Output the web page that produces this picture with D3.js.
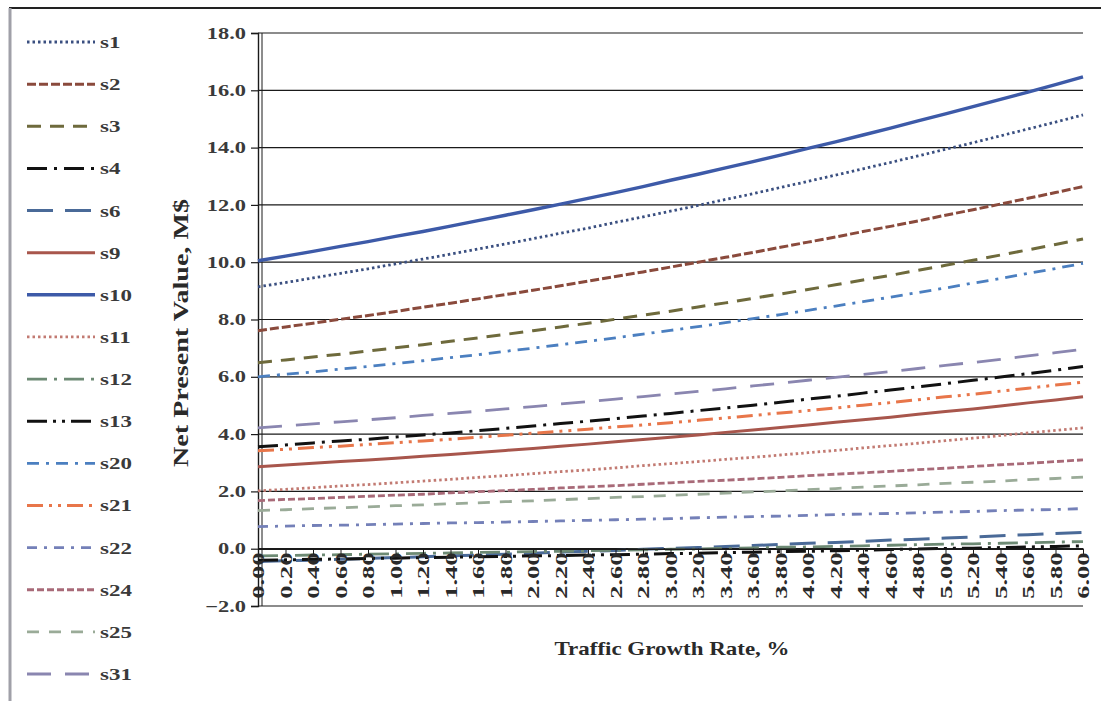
<!DOCTYPE html>
<html><head><meta charset="utf-8">
<script src="https://cdn.jsdelivr.net/npm/d3@7"></script>
<style>body{margin:0;background:#fff;} svg{display:block;}</style>
</head><body>
<svg id="c" width="1101" height="701"></svg>
<script>
const categories = ["0.00","0.20","0.40","0.60","0.80","1.00","1.20","1.40","1.60","1.80","2.00","2.20","2.40","2.60","2.80","3.00","3.20","3.40","3.60","3.80","4.00","4.20","4.40","4.60","4.80","5.00","5.20","5.40","5.60","5.80","6.00"];
const yTicks = [-2,0,2,4,6,8,10,12,14,16,18];
const seriesNames = ["s1","s2","s3","s4","s6","s9","s10","s11","s12","s13","s20","s21","s22","s24","s25","s31"];

const s1 = [9.14,9.29,9.45,9.61,9.77,9.94,10.11,10.28,10.46,10.64,10.82,11.01,11.19,11.39,11.58,11.78,11.98,12.19,12.39,12.61,12.82,13.04,13.26,13.48,13.71,13.94,14.17,14.41,14.65,14.89,15.14];
const s2 = [7.61,7.74,7.87,8.01,8.14,8.28,8.43,8.57,8.72,8.87,9.02,9.18,9.34,9.50,9.66,9.83,10.00,10.17,10.34,10.52,10.70,10.88,11.07,11.25,11.44,11.64,11.83,12.03,12.23,12.43,12.64];
const s3 = [6.49,6.59,6.69,6.79,6.90,7.01,7.12,7.24,7.36,7.48,7.61,7.74,7.87,8.01,8.15,8.29,8.44,8.58,8.74,8.89,9.05,9.21,9.38,9.54,9.72,9.89,10.07,10.25,10.43,10.62,10.81];
const s4 = [3.56,3.62,3.69,3.76,3.82,3.90,3.97,4.04,4.12,4.20,4.28,4.37,4.45,4.54,4.63,4.72,4.82,4.91,5.01,5.11,5.22,5.32,5.43,5.54,5.65,5.76,5.88,5.99,6.11,6.23,6.36];
const s6 = [-0.45,-0.42,-0.40,-0.37,-0.34,-0.31,-0.28,-0.25,-0.22,-0.19,-0.16,-0.12,-0.09,-0.06,-0.02,0.01,0.04,0.08,0.11,0.15,0.19,0.22,0.26,0.30,0.33,0.37,0.41,0.45,0.49,0.53,0.57];
const s9 = [2.86,2.92,2.98,3.04,3.10,3.16,3.23,3.29,3.36,3.43,3.50,3.58,3.65,3.73,3.81,3.89,3.97,4.06,4.14,4.23,4.32,4.41,4.50,4.59,4.69,4.79,4.88,4.98,5.09,5.19,5.30];
const s10 = [10.05,10.21,10.38,10.55,10.72,10.90,11.07,11.26,11.45,11.64,11.83,12.03,12.23,12.43,12.64,12.86,13.07,13.29,13.51,13.74,13.97,14.20,14.44,14.68,14.93,15.18,15.43,15.68,15.94,16.20,16.47];
const s11 = [2.02,2.07,2.13,2.19,2.24,2.30,2.36,2.42,2.49,2.55,2.62,2.69,2.75,2.82,2.90,2.97,3.04,3.12,3.19,3.27,3.35,3.43,3.52,3.60,3.68,3.77,3.86,3.95,4.04,4.13,4.22];
const s12 = [-0.25,-0.24,-0.22,-0.21,-0.19,-0.18,-0.16,-0.15,-0.13,-0.12,-0.10,-0.09,-0.07,-0.06,-0.04,-0.02,-0.01,0.01,0.03,0.05,0.06,0.08,0.10,0.12,0.14,0.16,0.17,0.19,0.21,0.23,0.25];
const s13 = [-0.40,-0.39,-0.37,-0.36,-0.34,-0.33,-0.31,-0.30,-0.28,-0.27,-0.25,-0.24,-0.22,-0.21,-0.19,-0.17,-0.16,-0.14,-0.12,-0.10,-0.09,-0.07,-0.05,-0.03,-0.01,0.01,0.02,0.04,0.06,0.08,0.10];
const s20 = [6.00,6.09,6.17,6.27,6.36,6.46,6.56,6.67,6.77,6.89,7.00,7.12,7.24,7.36,7.49,7.62,7.75,7.89,8.03,8.17,8.32,8.47,8.62,8.78,8.94,9.10,9.27,9.43,9.61,9.78,9.96];
const s21 = [3.42,3.47,3.53,3.58,3.64,3.70,3.76,3.82,3.89,3.96,4.03,4.10,4.17,4.25,4.32,4.40,4.48,4.56,4.65,4.74,4.82,4.91,5.01,5.10,5.20,5.30,5.39,5.50,5.60,5.71,5.81];
const s22 = [0.77,0.79,0.81,0.82,0.84,0.86,0.88,0.90,0.91,0.93,0.95,0.97,0.99,1.01,1.03,1.05,1.08,1.10,1.12,1.14,1.16,1.19,1.21,1.23,1.25,1.28,1.30,1.33,1.35,1.37,1.40];
const s24 = [1.68,1.72,1.75,1.79,1.83,1.87,1.90,1.95,1.99,2.03,2.07,2.12,2.16,2.20,2.25,2.30,2.35,2.39,2.44,2.49,2.55,2.60,2.65,2.70,2.76,2.81,2.87,2.93,2.98,3.04,3.10];
const s25 = [1.33,1.36,1.40,1.43,1.46,1.50,1.53,1.57,1.60,1.64,1.67,1.71,1.75,1.79,1.82,1.86,1.90,1.94,1.98,2.02,2.06,2.10,2.15,2.19,2.23,2.28,2.32,2.36,2.41,2.45,2.50];
const s31 = [4.22,4.29,4.36,4.43,4.50,4.57,4.65,4.72,4.80,4.88,4.96,5.05,5.13,5.22,5.31,5.40,5.49,5.58,5.68,5.78,5.88,5.98,6.08,6.18,6.29,6.40,6.50,6.61,6.73,6.84,6.96];

const seriesValues = [s1,s2,s3,s4,s6,s9,s10,s11,s12,s13,s20,s21,s22,s24,s25,s31];

// styles (kept apart from data)
const seriesColors = ["#3a4f80","#8a4a3c","#6e6a3c","#111111","#4a6a98","#a8564c","#3d5aa8","#c27a72","#6d8a74","#111111","#4b7fc0","#e8764a","#7480b8","#a86a78","#9aab98","#8a86b0"];
const seriesDash = ["2.5,3","9,3","14,9","20,7,3,7","26,12",null,null,"2.5,3","20,7,3,7","20,6,3,6,3,6","12,7,3,7","16,6,3,6,3,6","10,7,3,7","7,3","12,10","24,14"];
const seriesWidth = [2.8,3,3,3,3,3,3.4,2.8,2.8,3,2.8,3,2.8,2.8,2.8,2.8];

const svg = d3.select("#c");
const SERIF = "'Liberation Serif','Times New Roman',serif";
svg.append("rect").attr("width",1101).attr("height",701).attr("fill","#fff");

function stretch(sel, f){
  sel.each(function(){
    const l = this.getComputedTextLength();
    d3.select(this).attr("textLength", l*f).attr("lengthAdjust","spacingAndGlyphs");
  });
}

// frame
svg.append("line").attr("x1",9).attr("x2",1101).attr("y1",8).attr("y2",8).attr("stroke","#222").attr("stroke-width",2);
svg.append("line").attr("x1",10).attr("x2",10).attr("y1",8).attr("y2",701).attr("stroke","#a0a0a8").attr("stroke-width",3);

const x = d3.scalePoint().domain(categories).range([258,1083]);
const y = d3.scaleLinear().domain([-2,18]).range([606,33]);

// gridlines
svg.append("g").selectAll("line").data(yTicks).join("line")
  .attr("x1",258).attr("x2",1083)
  .attr("y1",d=>y(d)).attr("y2",d=>y(d))
  .attr("stroke","#1a1a1a").attr("stroke-width",1.2);

// y axis
const gy = svg.append("g").attr("transform","translate(258,0)")
  .call(d3.axisLeft(y).tickValues(yTicks).tickFormat(d3.format(".1f")).tickSize(7).tickPadding(5));
gy.select(".domain").attr("stroke","#1a1a1a").attr("stroke-width",1.4);
gy.selectAll(".tick line").attr("stroke","#1a1a1a").attr("stroke-width",1.2);
gy.selectAll("text").attr("font-family",SERIF).attr("font-weight","bold").attr("font-size",16).attr("fill","#3a3a3a");
stretch(gy.selectAll("text"),1.4);
svg.append("line").attr("x1",262).attr("x2",262).attr("y1",y(18)).attr("y2",y(-2)).attr("stroke","#1a1a1a").attr("stroke-width",1);

// series lines
const line = d3.line().x((d,i)=>x(categories[i])).y(d=>y(d));
const gl = svg.append("g");
seriesValues.forEach((vals,k)=>{
  gl.append("path").datum(vals).attr("d",line)
    .attr("fill","none").attr("stroke",seriesColors[k])
    .attr("stroke-width",seriesWidth[k])
    .attr("stroke-dasharray",seriesDash[k]);
});

// x axis at 0
const gx = svg.append("g").attr("transform",`translate(0,${y(0)})`)
  .call(d3.axisBottom(x).tickSize(8).tickSizeOuter(0));
gx.select(".domain").attr("stroke","#1a1a1a").attr("stroke-width",1.4);
gx.selectAll(".tick line").attr("stroke","#1a1a1a");
gx.selectAll("text")
  .attr("transform","rotate(-90)").attr("x",-4).attr("y",0).attr("dy","0.35em")
  .attr("text-anchor","end")
  .attr("font-family",SERIF).attr("font-weight","bold").attr("font-size",16).attr("fill","#2a2a2a");
gx.selectAll("text").attr("textLength",46).attr("lengthAdjust","spacingAndGlyphs");

// axis titles
const yt = svg.append("text").attr("transform","translate(180,333) rotate(-90)")
  .attr("text-anchor","middle").attr("dy","0.35em")
  .attr("font-family",SERIF).attr("font-weight","bold").attr("font-size",22).attr("fill","#2a2a2a")
  .text("Net Present Value, M$");
yt.attr("textLength",268).attr("lengthAdjust","spacingAndGlyphs");
const xt = svg.append("text").attr("x",672).attr("y",655)
  .attr("text-anchor","middle")
  .attr("font-family",SERIF).attr("font-weight","bold").attr("font-size",19).attr("fill","#2a2a2a")
  .text("Traffic Growth Rate, %");
xt.attr("textLength",235).attr("lengthAdjust","spacingAndGlyphs");

// legend
const legY = d3.scalePoint().domain(seriesNames).range([42,674]);
const lg = svg.append("g");
seriesNames.forEach((n,k)=>{
  const cy = legY(n);
  lg.append("line").attr("x1",27).attr("x2",95).attr("y1",cy).attr("y2",cy)
    .attr("stroke",seriesColors[k]).attr("stroke-width",seriesWidth[k])
    .attr("stroke-dasharray",seriesDash[k]);
  lg.append("text").attr("x",100).attr("y",cy+6)
    .attr("font-family",SERIF).attr("font-weight","bold").attr("font-size",17).attr("fill","#3a3a3a")
    .text(n);
});
stretch(lg.selectAll("text"),1.35);
</script>
</body></html>
